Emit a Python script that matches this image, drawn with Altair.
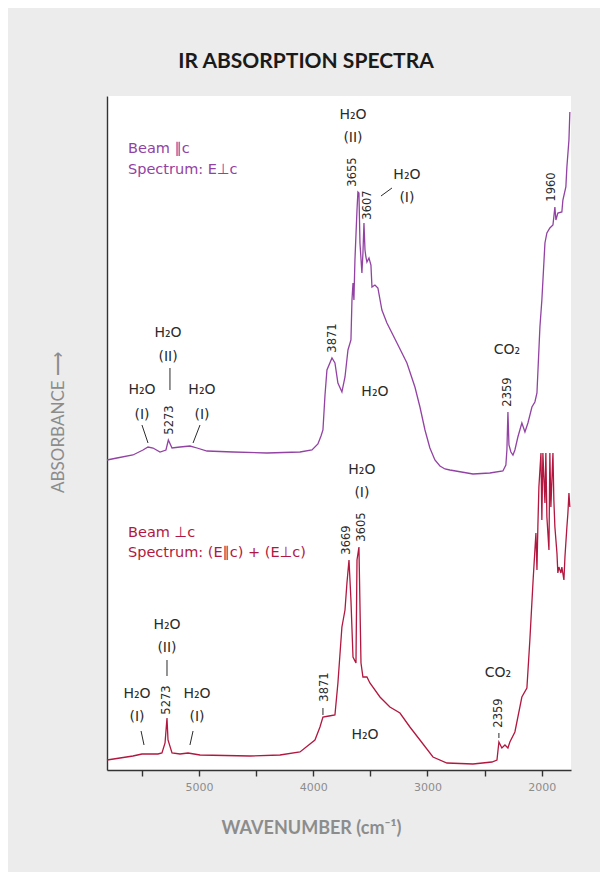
import altair as alt
import pandas as pd

# ---- spectrum 1: Beam ∥c, spectrum E⊥c (purple) ----
P_WN = [5805, 5718, 5578, 5490, 5446, 5402, 5341, 5289, 5268, 5236, 5166, 5079, 5017, 4930, 4702, 4405,
        4116, 4011, 3959, 3932, 3915, 3897, 3880, 3836, 3810, 3784, 3749, 3722, 3696, 3670, 3661, 3652,
        3644, 3635, 3617, 3609, 3600, 3591, 3574, 3565, 3556, 3547, 3539, 3530, 3512, 3495, 3486, 3460,
        3434, 3399, 3355, 3267, 3180, 3110, 3066, 3022, 2979, 2935, 2891, 2847, 2804, 2602, 2454, 2340,
        2314, 2305, 2296, 2287, 2270, 2252, 2235, 2209, 2174, 2147, 2121, 2086, 2060, 2042, 2016, 1999,
        1972, 1955, 1929, 1902, 1885, 1876, 1859, 1824, 1815, 1789, 1780, 1762, 1754]
P_ABS = [31.0, 31.2, 31.5, 32.0, 32.3, 32.2, 31.8, 32.0, 33.0, 32.2, 32.3, 32.4, 32.2, 31.9, 31.8, 31.7,
         31.8, 32.0, 32.6, 33.4, 34.0, 37.5, 40.0, 41.2, 40.7, 38.7, 37.8, 39.3, 42.0, 43.0, 47.0, 48.7,
         47.0, 51.0, 56.0, 57.8, 57.7, 52.7, 49.7, 51.7, 54.7, 52.0, 51.3, 50.8, 51.2, 50.5, 48.3, 48.5,
         48.2, 46.0, 44.7, 42.7, 40.7, 38.3, 36.3, 34.0, 32.2, 31.0, 30.4, 30.1, 30.0, 29.6, 29.7, 29.9,
         30.5, 32.0, 35.8, 32.5, 31.8, 31.5, 32.0, 33.3, 34.7, 33.8, 34.7, 36.3, 36.8, 37.7, 44.3, 47.0,
         52.7, 53.7, 54.2, 54.5, 56.3, 55.0, 55.7, 55.8, 57.0, 58.3, 60.3, 63.0, 65.8]

# ---- spectrum 2: Beam ⊥c, spectrum (E∥c)+(E⊥c) (red) ----
R_WN = [5805, 5691, 5578, 5499, 5429, 5359, 5324, 5297, 5280, 5271, 5236, 5166, 5096, 4991, 4554, 4291,
        4116, 3985, 3941, 3915, 3862, 3810, 3784, 3749, 3722, 3705, 3687, 3670, 3652, 3626, 3617, 3600,
        3582, 3565, 3530, 3504, 3416, 3329, 3241, 3154, 3066, 2952, 2830, 2602, 2436, 2392, 2375, 2349,
        2322, 2296, 2279, 2235, 2174, 2130, 2104, 2077, 2060, 2051, 2042, 2034, 2025, 2007, 1999, 1990,
        1972, 1964, 1955, 1937, 1929, 1920, 1902, 1894, 1885, 1867, 1859, 1850, 1832, 1824, 1806, 1797,
        1780, 1771, 1762, 1754]
R_ABS = [1.0, 1.2, 1.4, 1.6, 1.6, 1.6, 1.7, 2.7, 5.2, 3.0, 1.7, 1.6, 1.7, 1.5, 1.4, 1.5,
         1.8, 3.0, 4.3, 5.3, 5.4, 5.5, 8.7, 14.3, 16.0, 18.7, 21.0, 17.0, 11.3, 10.7, 21.0, 22.3,
         10.7, 9.3, 9.3, 8.7, 7.3, 6.3, 5.7, 4.3, 3.0, 1.3, 0.7, 0.6, 0.8, 1.0, 2.8, 2.2,
         2.5, 2.2, 2.8, 3.8, 7.3, 8.2, 13.0, 18.7, 22.0, 23.7, 20.0, 24.3, 28.3, 31.7, 25.0, 31.7,
         26.7, 31.7, 25.3, 22.0, 31.7, 26.3, 31.7, 27.0, 24.3, 21.7, 19.7, 20.3, 19.7, 20.3, 19.0, 21.3,
         24.3, 25.7, 27.7, 26.3]

SERIES = ["Beam ∥c", "Beam ⊥c"]
SERIES_COLORS = ["#9242a3", "#b2173f"]
X_TICKS = [5500, 5000, 4500, 4000, 3500, 3000, 2500, 2000]

# annotation labels (text, wavenumber, absorbance)
LBL_TEXT = ["H₂O", "(II)", "H₂O", "(I)", "H₂O", "(I)", "H₂O", "(II)", "H₂O", "(I)", "H₂O", "CO₂",
            "H₂O", "(I)", "H₂O", "(II)", "H₂O", "(I)", "H₂O", "(I)", "H₂O", "CO₂"]
LBL_WN = [5271, 5271, 5499, 5499, 4974, 4974, 3652, 3652, 3180, 3180, 3460, 2305,
          3574, 3574, 5280, 5280, 5542, 5542, 5017, 5017, 3547, 2384]
LBL_ABS = [43.7, 41.3, 38.0, 35.5, 38.0, 35.5, 65.5, 63.2, 59.5, 57.2, 37.8, 42.0,
           30.0, 27.7, 14.5, 12.2, 7.6, 5.3, 7.6, 5.3, 3.5, 9.7]

# peak positions written vertically
PK_TEXT = ["5273", "3871", "3655", "3607", "2359", "1960",
           "5273", "3871", "3669", "3605", "2359"]
PK_WN = [5254, 3827, 3652, 3521, 2296, 1911,
         5280, 3897, 3705, 3574, 2375]
PK_ABS = [35.0, 43.2, 59.8, 56.5, 37.8, 58.3,
          7.0, 8.3, 23.0, 24.3, 5.7]

# leader lines
LD_WN1 = [5254, 5499, 4991, 3407, 5280, 5507, 5052, 3915, 2375]
LD_WN2 = [5254, 5446, 5052, 3311, 5280, 5481, 5079, 3915, 2375]
LD_A1 = [40.2, 34.5, 34.5, 57.4, 11.0, 3.9, 3.9, 6.2, 3.7]
LD_A2 = [38.0, 32.7, 32.7, 58.2, 9.4, 2.5, 2.5, 5.5, 3.2]

# series captions
CAP_TEXT = ["Beam ∥c", "Spectrum: E⊥c", "Beam ⊥c", "Spectrum: (E∥c) + (E⊥c)"]
CAP_SERIES = ["Beam ∥c", "Beam ∥c", "Beam ⊥c", "Beam ⊥c"]
CAP_WN = [5621, 5621, 5621, 5621]
CAP_ABS = [62.1, 60.0, 23.7, 21.7]

spec = pd.DataFrame({
    "wn": P_WN + R_WN,
    "abs": P_ABS + R_ABS,
    "series": [SERIES[0]] * len(P_WN) + [SERIES[1]] * len(R_WN),
})
lbl = pd.DataFrame({"t": LBL_TEXT, "wn": LBL_WN, "abs": LBL_ABS})
pk = pd.DataFrame({"t": PK_TEXT, "wn": PK_WN, "abs": PK_ABS})
ld = pd.DataFrame({"wn": LD_WN1, "wn2": LD_WN2, "abs": LD_A1, "abs2": LD_A2})
cap = pd.DataFrame({"t": CAP_TEXT, "series": CAP_SERIES, "wn": CAP_WN, "abs": CAP_ABS})

GRAY = "#8c8c8c"
INK = "#2b2b2b"

xscale = alt.Scale(domain=[1744, 5805], reverse=True, nice=False, zero=False)
yscale = alt.Scale(domain=[0, 67.4], nice=False, zero=False)
cscale = alt.Scale(domain=SERIES, range=SERIES_COLORS)

x_axis = alt.Axis(
    values=X_TICKS, format="d",
    labelExpr="datum.value % 1000 == 0 ? datum.label : ''",
    grid=False, tickSize=6, tickColor="#333333", tickWidth=1.4,
    domainColor="#333333", domainWidth=1.4,
    labelColor=GRAY, labelFont="DejaVu Sans", labelFontSize=11, labelPadding=5,
    title="WAVENUMBER (cm⁻¹)", titleFont="Lato", titleFontSize=18, titleFontWeight="bold",
    titleColor=GRAY, titleX=204, titleY=58, titleBaseline="middle", titleAlign="center",
)
y_axis = alt.Axis(
    ticks=False, labels=False, grid=False,
    domainColor="#333333", domainWidth=1.4,
    title="ABSORBANCE ⟶", titleFont="Lato", titleFontSize=17, titleFontWeight="normal",
    titleColor=GRAY, titleAngle=270, titleX=-49, titleY=326,
    titleBaseline="middle", titleAlign="center",
)

base_x = alt.X("wn:Q", scale=xscale, axis=x_axis)
base_y = alt.Y("abs:Q", scale=yscale, axis=y_axis)

lines = alt.Chart(spec).mark_line(strokeWidth=1.3).encode(
    x=base_x, y=base_y,
    color=alt.Color("series:N", scale=cscale, legend=None),
    order="wn:Q",
)

labels = alt.Chart(lbl).mark_text(
    font="DejaVu Sans", fontSize=14, color=INK, align="center", baseline="middle"
).encode(x=alt.X("wn:Q", scale=xscale), y=alt.Y("abs:Q", scale=yscale), text="t:N")

peaks = alt.Chart(pk).mark_text(
    font="DejaVu Sans", fontSize=11.5, color=INK, align="center", baseline="middle", angle=270
).encode(x=alt.X("wn:Q", scale=xscale), y=alt.Y("abs:Q", scale=yscale), text="t:N")

leaders = alt.Chart(ld).mark_rule(color=INK, strokeWidth=1).encode(
    x=alt.X("wn:Q", scale=xscale), x2="wn2:Q",
    y=alt.Y("abs:Q", scale=yscale), y2="abs2:Q",
)

captions = alt.Chart(cap).mark_text(
    font="DejaVu Sans", fontSize=14.5, align="left", baseline="middle"
).encode(
    x=alt.X("wn:Q", scale=xscale), y=alt.Y("abs:Q", scale=yscale), text="t:N",
    color=alt.Color("series:N", scale=cscale, legend=None),
)

chart = alt.layer(lines, leaders, labels, peaks, captions).properties(
    width=464, height=674,
    padding={"left": 99, "top": 88, "right": 29, "bottom": 102},
    autosize=alt.AutoSizeParams(type="none"),
    background="#ececec",
    title=alt.TitleParams(
        "IR ABSORPTION SPECTRA", font="Lato", fontSize=21, fontWeight="bold",
        color="#1a1a1a", anchor="middle", frame="group", dx=-33, offset=24,
    ),
).configure_view(stroke=None, fill="white")

chart.save("out.html", embed_options={"renderer": "svg", "actions": False})
